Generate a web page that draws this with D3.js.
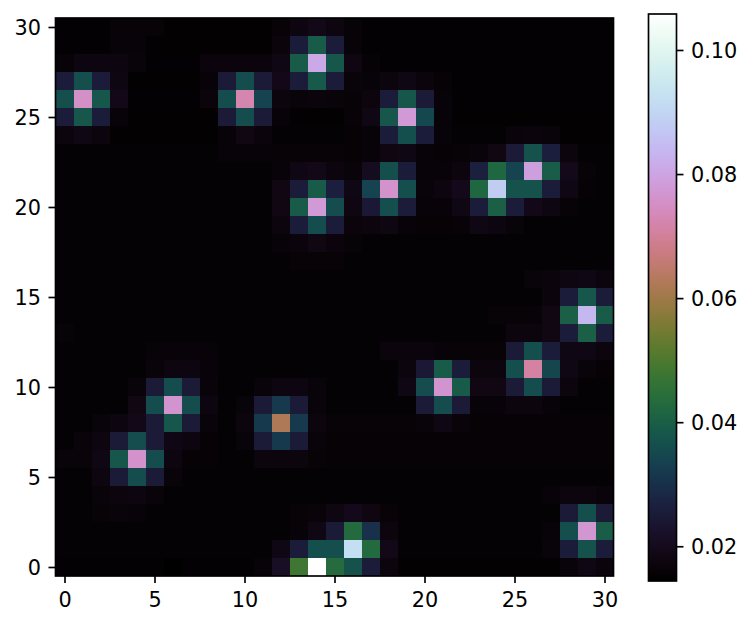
<!DOCTYPE html>
<html><head><meta charset="utf-8">
<script src="https://cdn.jsdelivr.net/npm/d3@7"></script>
<style>
body{margin:0;background:#fff;}
svg{display:block;}
text{font-family:"DejaVu Sans",sans-serif;}
</style>
</head><body>
<svg id="chart" width="753" height="626"></svg>
<script>
// grid values, rows listed from y = 0 (bottom) to y = 30 (top), columns x = 0..30
const values = [
[.0150,.0150,.0150,.0150,.0150,.0150,.0144,.0150,.0150,.0150,.0150,.0162,.0215,.0480,.1058,.0435,.0370,.0255,.0172,.0152,.0152,.0152,.0152,.0152,.0152,.0152,.0152,.0152,.0165,.0185,.0170],
[.0155,.0155,.0155,.0155,.0155,.0155,.0155,.0155,.0155,.0155,.0155,.0155,.0185,.0255,.0365,.0365,.0920,.0430,.0190,.0155,.0155,.0155,.0155,.0155,.0155,.0155,.0155,.0165,.0255,.0370,.0255],
[.0155,.0155,.0155,.0155,.0155,.0155,.0155,.0155,.0155,.0155,.0155,.0155,.0155,.0162,.0185,.0250,.0430,.0300,.0172,.0155,.0155,.0155,.0155,.0155,.0155,.0155,.0155,.0162,.0365,.0770,.0395],
[.0155,.0155,.0160,.0165,.0162,.0155,.0155,.0155,.0155,.0155,.0155,.0155,.0155,.0160,.0165,.0178,.0195,.0180,.0160,.0155,.0155,.0155,.0155,.0155,.0155,.0155,.0155,.0155,.0250,.0365,.0250],
[.0155,.0155,.0165,.0172,.0175,.0165,.0155,.0155,.0155,.0155,.0155,.0155,.0155,.0155,.0155,.0155,.0155,.0155,.0155,.0155,.0155,.0155,.0155,.0155,.0155,.0155,.0155,.0162,.0172,.0172,.0165],
[.0155,.0155,.0175,.0250,.0360,.0250,.0165,.0155,.0155,.0155,.0155,.0155,.0155,.0155,.0155,.0155,.0155,.0155,.0155,.0155,.0155,.0155,.0155,.0155,.0155,.0155,.0155,.0155,.0155,.0155,.0155],
[.0165,.0165,.0185,.0380,.0760,.0360,.0175,.0158,.0158,.0155,.0155,.0172,.0172,.0172,.0160,.0158,.0158,.0158,.0158,.0158,.0158,.0158,.0158,.0158,.0158,.0158,.0158,.0158,.0158,.0158,.0158],
[.0155,.0165,.0175,.0250,.0360,.0250,.0185,.0175,.0158,.0155,.0165,.0250,.0320,.0250,.0165,.0158,.0158,.0158,.0158,.0158,.0158,.0158,.0158,.0158,.0158,.0158,.0158,.0158,.0158,.0158,.0158],
[.0155,.0155,.0165,.0175,.0190,.0250,.0380,.0250,.0165,.0155,.0172,.0320,.0620,.0320,.0172,.0160,.0160,.0160,.0160,.0160,.0165,.0185,.0165,.0158,.0158,.0158,.0158,.0158,.0158,.0158,.0158],
[.0155,.0155,.0155,.0155,.0182,.0360,.0765,.0360,.0175,.0155,.0165,.0250,.0320,.0250,.0165,.0155,.0155,.0155,.0155,.0155,.0250,.0360,.0250,.0162,.0162,.0172,.0172,.0162,.0155,.0155,.0155],
[.0155,.0155,.0155,.0155,.0165,.0250,.0360,.0250,.0165,.0155,.0155,.0165,.0175,.0175,.0165,.0155,.0155,.0155,.0155,.0185,.0360,.0765,.0390,.0182,.0182,.0250,.0360,.0250,.0172,.0155,.0155],
[.0155,.0155,.0155,.0155,.0155,.0165,.0175,.0175,.0162,.0155,.0155,.0155,.0155,.0155,.0155,.0155,.0155,.0155,.0155,.0172,.0245,.0390,.0255,.0172,.0172,.0365,.0710,.0345,.0185,.0165,.0158],
[.0155,.0155,.0155,.0155,.0155,.0162,.0162,.0162,.0162,.0155,.0155,.0155,.0155,.0155,.0155,.0155,.0155,.0155,.0170,.0170,.0170,.0162,.0160,.0160,.0160,.0250,.0365,.0255,.0185,.0185,.0172],
[.0162,.0155,.0155,.0155,.0155,.0155,.0155,.0155,.0155,.0155,.0155,.0155,.0155,.0155,.0155,.0155,.0155,.0155,.0155,.0155,.0155,.0155,.0155,.0155,.0155,.0172,.0172,.0182,.0255,.0400,.0255],
[.0155,.0155,.0155,.0155,.0155,.0155,.0155,.0155,.0155,.0155,.0155,.0155,.0155,.0155,.0155,.0155,.0155,.0155,.0155,.0155,.0155,.0155,.0155,.0155,.0160,.0160,.0162,.0182,.0400,.0840,.0390],
[.0155,.0155,.0155,.0155,.0155,.0155,.0155,.0155,.0155,.0155,.0155,.0155,.0155,.0155,.0155,.0155,.0155,.0155,.0155,.0155,.0155,.0155,.0155,.0155,.0155,.0155,.0155,.0170,.0255,.0380,.0255],
[.0155,.0155,.0155,.0155,.0155,.0155,.0155,.0155,.0155,.0155,.0155,.0155,.0155,.0155,.0155,.0155,.0155,.0155,.0155,.0155,.0155,.0155,.0155,.0155,.0155,.0155,.0165,.0170,.0178,.0185,.0172],
[.0155,.0155,.0155,.0155,.0155,.0155,.0155,.0155,.0155,.0155,.0155,.0155,.0155,.0160,.0160,.0160,.0155,.0155,.0155,.0155,.0155,.0155,.0155,.0155,.0155,.0155,.0155,.0155,.0155,.0155,.0155],
[.0155,.0155,.0155,.0155,.0155,.0155,.0155,.0155,.0155,.0155,.0155,.0155,.0162,.0170,.0182,.0170,.0160,.0155,.0155,.0155,.0155,.0155,.0155,.0155,.0155,.0155,.0155,.0155,.0155,.0155,.0155],
[.0155,.0155,.0155,.0155,.0155,.0155,.0155,.0155,.0155,.0155,.0155,.0155,.0172,.0255,.0360,.0255,.0168,.0172,.0178,.0162,.0158,.0158,.0162,.0185,.0175,.0165,.0155,.0155,.0155,.0155,.0155],
[.0155,.0155,.0155,.0155,.0155,.0155,.0155,.0155,.0155,.0155,.0155,.0155,.0182,.0390,.0775,.0360,.0180,.0245,.0365,.0255,.0162,.0162,.0185,.0255,.0400,.0255,.0190,.0178,.0160,.0155,.0155],
[.0155,.0155,.0155,.0155,.0155,.0155,.0155,.0155,.0155,.0155,.0155,.0155,.0182,.0255,.0390,.0260,.0185,.0340,.0760,.0365,.0165,.0175,.0195,.0420,.0880,.0370,.0370,.0255,.0185,.0158,.0155],
[.0155,.0155,.0155,.0155,.0155,.0155,.0155,.0155,.0155,.0155,.0155,.0155,.0162,.0185,.0190,.0172,.0165,.0205,.0365,.0255,.0162,.0162,.0172,.0265,.0420,.0340,.0790,.0395,.0195,.0160,.0155],
[.0155,.0155,.0155,.0155,.0155,.0155,.0155,.0155,.0155,.0162,.0162,.0162,.0160,.0160,.0160,.0160,.0158,.0162,.0180,.0185,.0162,.0158,.0160,.0165,.0182,.0250,.0370,.0260,.0172,.0155,.0155],
[.0172,.0185,.0172,.0152,.0152,.0152,.0152,.0152,.0152,.0162,.0182,.0170,.0155,.0155,.0155,.0155,.0158,.0162,.0255,.0365,.0255,.0162,.0155,.0155,.0155,.0165,.0170,.0165,.0152,.0152,.0152],
[.0255,.0380,.0255,.0162,.0152,.0152,.0152,.0152,.0152,.0250,.0360,.0250,.0162,.0152,.0152,.0152,.0160,.0185,.0380,.0775,.0350,.0162,.0152,.0152,.0152,.0152,.0152,.0152,.0152,.0152,.0152],
[.0365,.0755,.0380,.0190,.0150,.0150,.0150,.0150,.0168,.0360,.0725,.0340,.0172,.0165,.0170,.0165,.0160,.0172,.0255,.0380,.0250,.0162,.0150,.0150,.0150,.0150,.0150,.0150,.0150,.0150,.0150],
[.0255,.0365,.0255,.0178,.0152,.0152,.0152,.0152,.0162,.0250,.0360,.0250,.0190,.0255,.0385,.0255,.0165,.0162,.0172,.0185,.0170,.0158,.0150,.0150,.0150,.0150,.0150,.0150,.0150,.0150,.0150],
[.0162,.0175,.0175,.0175,.0165,.0150,.0150,.0150,.0170,.0170,.0170,.0170,.0185,.0390,.0810,.0380,.0180,.0158,.0150,.0150,.0150,.0150,.0150,.0150,.0150,.0150,.0150,.0150,.0150,.0150,.0150],
[.0150,.0150,.0150,.0162,.0162,.0152,.0152,.0152,.0152,.0152,.0152,.0152,.0168,.0255,.0390,.0255,.0162,.0150,.0150,.0150,.0150,.0150,.0150,.0150,.0150,.0150,.0150,.0150,.0150,.0150,.0150],
[.0150,.0150,.0150,.0160,.0160,.0160,.0152,.0152,.0152,.0152,.0152,.0152,.0160,.0175,.0190,.0175,.0160,.0150,.0150,.0150,.0150,.0150,.0150,.0150,.0150,.0150,.0150,.0150,.0150,.0150,.0150]
];
const xTicks = [0, 5, 10, 15, 20, 25, 30];
const yTicks = [0, 5, 10, 15, 20, 25, 30];
const cbTicks = [0.02, 0.04, 0.06, 0.08, 0.10];

// matplotlib 'cubehelix' colormap
function cubehelix(t) {
  const s = 0.5, r = -1.5, h = 1.0;
  const a = h * t * (1 - t) / 2;
  const phi = 2 * Math.PI * (s / 3 + r * t);
  const c = Math.cos(phi), sn = Math.sin(phi);
  const R = t + a * (-0.14861 * c + 1.78277 * sn);
  const G = t + a * (-0.29227 * c - 0.90649 * sn);
  const B = t + a * (1.97294 * c);
  const cl = v => Math.round(Math.max(0, Math.min(1, v)) * 255);
  return `rgb(${cl(R)},${cl(G)},${cl(B)})`;
}

const flat = values.flat();
const vmin = d3.min(flat), vmax = d3.max(flat);
const color = d3.scaleSequential(cubehelix).domain([vmin, vmax]);

const svg = d3.select("#chart");
const FS = "20.8px";
const LW = 1.67;

const x = d3.scaleLinear().domain([-0.5, 30.5]).range([55.5, 613.5]);
const y = d3.scaleLinear().domain([-0.5, 30.5]).range([576, 18]);

const cells = [];
values.forEach((row, yi) => row.forEach((v, xi) => cells.push({xi, yi, v})));

svg.append("g").attr("shape-rendering", "crispEdges")
  .selectAll("rect").data(cells).join("rect")
  .attr("x", d => x(d.xi - 0.5))
  .attr("y", d => y(d.yi + 0.5))
  .attr("width", d => x(d.xi + 0.5) - x(d.xi - 0.5) + 0.3)
  .attr("height", d => y(d.yi - 0.5) - y(d.yi + 0.5) + 0.3)
  .attr("fill", d => color(d.v));

function styleAxis(g) {
  g.select(".domain").remove();
  g.selectAll(".tick line").attr("stroke", "#000").attr("stroke-width", LW);
  g.selectAll(".tick text").attr("fill", "#000").style("font-size", FS).style("font-family", "DejaVu Sans");
}

svg.append("g").attr("transform", "translate(0,576)")
  .call(d3.axisBottom(x).tickValues(xTicks).tickFormat(d3.format("d")).tickSize(7).tickPadding(9))
  .call(styleAxis);

svg.append("g").attr("transform", "translate(55.5,0)")
  .call(d3.axisLeft(y).tickValues(yTicks).tickFormat(d3.format("d")).tickSize(7).tickPadding(7.5))
  .call(styleAxis)
  .selectAll(".tick text").attr("dy", "0.36em");

svg.append("rect").attr("x", 55.5).attr("y", 18).attr("width", 558).attr("height", 558)
  .attr("fill", "none").attr("stroke", "#000").attr("stroke-width", LW);

// colorbar
const cbX = 648.5, cbW = 28, cbTop = 14, cbBot = 581;
const cbScale = d3.scaleLinear().domain([vmin, vmax]).range([cbBot, cbTop]);
const grad = svg.append("defs").append("linearGradient").attr("id", "cbgrad")
  .attr("x1", 0).attr("y1", 1).attr("x2", 0).attr("y2", 0);
d3.range(0, 1.0001, 1 / 128).forEach(t => {
  grad.append("stop").attr("offset", t).attr("stop-color", cubehelix(Math.min(1, t)));
});
svg.append("rect").attr("x", cbX).attr("y", cbTop).attr("width", cbW).attr("height", cbBot - cbTop)
  .attr("fill", "url(#cbgrad)");
svg.append("rect").attr("x", cbX).attr("y", cbTop).attr("width", cbW).attr("height", cbBot - cbTop)
  .attr("fill", "none").attr("stroke", "#000").attr("stroke-width", LW);

svg.append("g").attr("transform", `translate(${cbX + cbW},0)`)
  .call(d3.axisRight(cbScale).tickValues(cbTicks).tickFormat(d3.format(".2f")).tickSize(7).tickPadding(7.5))
  .call(styleAxis)
  .selectAll(".tick text").attr("dy", "0.36em");
</script>
</body></html>
